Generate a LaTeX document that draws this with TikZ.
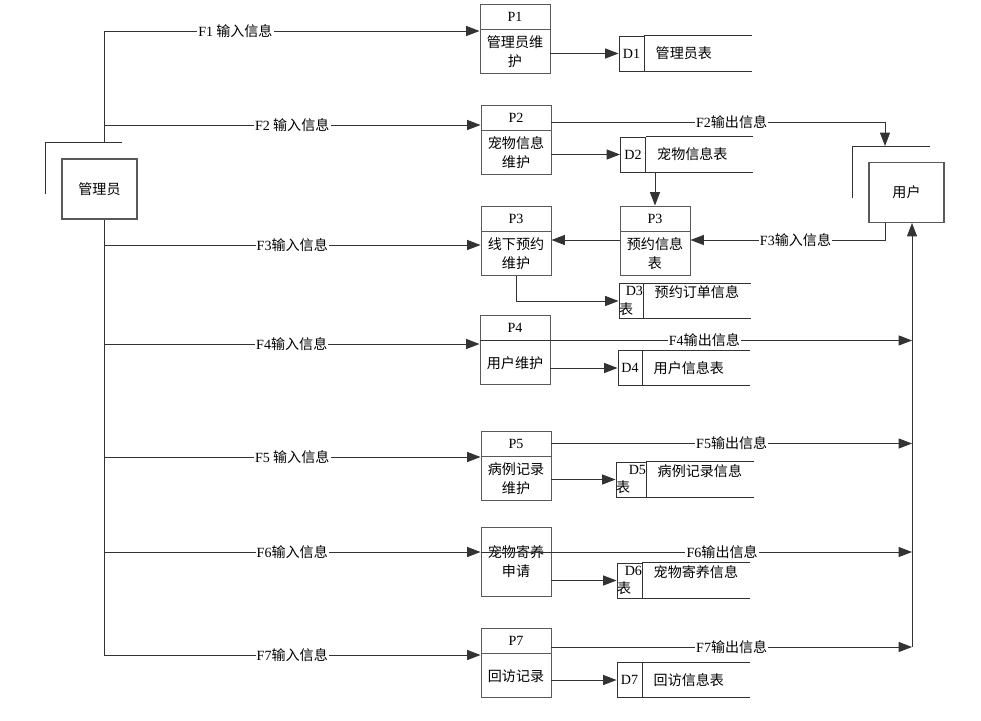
\documentclass[tikz,border=0pt]{standalone}
\usepackage{fontspec}
\setmainfont{Noto Sans CJK SC}
\newfontfamily\lat{Liberation Serif}
\usepackage{tikz}
\usetikzlibrary{arrows.meta, positioning, calc}
\tikzstyle{ext} = [rectangle, draw=black!65, line width=0.9pt, fill=white, minimum width=2.25cm, minimum height=1.8cm]
\tikzstyle{phead} = [rectangle, draw=black!65, line width=0.8pt, minimum width=2.1cm, minimum height=0.75cm, inner sep=0pt]
\tikzstyle{pbody} = [rectangle, draw=black!65, line width=0.8pt, minimum width=2.1cm, minimum height=1.32cm, inner sep=0pt, align=center]
\tikzstyle{dsid} = [rectangle, draw=black!80, line width=0.8pt, minimum width=0.75cm, minimum height=1.05cm, inner sep=0pt, align=center]
\tikzstyle{dsname} = [rectangle, minimum height=1.05cm, text width=2.55cm, inner xsep=0.33cm, inner ysep=0pt, align=left]

\begin{document}
\begin{tikzpicture}[
    x=0.03cm, y=-0.03cm,
    every node/.style={font=\fontsize{12}{16}\selectfont},
    wire/.style={line width=0.8pt, draw=black!80},
    arr/.style={-{Triangle[length=0.4cm, width=0.3cm]}, line width=0.8pt, draw=black!80},
    lbl/.style={fill=white, inner sep=1pt}
  ]
    \useasboundingbox (0,0) rectangle (981,720);

    % external entities
    \node[ext] (mgr) at (99.5,189) {管理员};
    \node[ext] (usr) at (906.5,192.5) {用户};
    \draw[wire] (45,194) -- (45,142) -- (122,142);
    \draw[wire] (852,198) -- (852,146) -- (930,146);

    % processes
    \node[phead] (p1h) at (515,16.5) {\lat P1};
    \node[pbody, below=0 of p1h] (p1b) {管理员维\\护};
    \node[phead] (p2h) at (516,117.5) {\lat P2};
    \node[pbody, below=0 of p2h] (p2b) {宠物信息\\维护};
    \node[phead] (p3h) at (516,218.5) {\lat P3};
    \node[pbody, below=0 of p3h] (p3b) {线下预约\\维护};
    \node[phead] (p3rh) at (655,218.5) {\lat P3};
    \node[pbody, below=0 of p3rh] (p3rb) {预约信息\\表};
    \node[phead] (p4h) at (515,327.5) {\lat P4};
    \node[pbody, below=0 of p4h] (p4b) {用户维护};
    \node[phead] (p5h) at (516,443.5) {\lat P5};
    \node[pbody, below=0 of p5h] (p5b) {病例记录\\维护};
    \node[pbody, minimum height=2.07cm] (p6) at (516,561.5) {宠物寄养\\申请};
    \node[phead] (p7h) at (516,640.5) {\lat P7};
    \node[pbody, below=0 of p7h] (p7b) {回访记录};

    % data stores
    \node[dsid] (d1) at (631.5,53.5) {\lat D1};
    \node[dsname, right=0 of d1] (d1n) {管理员表};
    \node[dsid] (d2) at (633,154.5) {\lat D2};
    \node[dsname, right=0 of d2] (d2n) {宠物信息表};
    \node[dsid, minimum width=0.72cm] (d3) at (631,301) {\makebox[0.72cm][r]{\lat D3}\\\makebox[0.72cm][l]{表}};
    \node[dsname, right=0 of d3] (d3n) {预约订单信息\\~};
    \node[dsid, minimum width=0.72cm] (d4) at (630,368) {\lat D4};
    \node[dsname, right=0 of d4] (d4n) {用户信息表};
    \node[dsid, minimum width=0.9cm] (d5) at (631,479.5) {\makebox[0.9cm][r]{\lat D5}\\\makebox[0.9cm][l]{表}};
    \node[dsname, right=0 of d5] (d5n) {病例记录信息\\~};
    \node[dsid] (d6) at (629.5,580.5) {\makebox[0.75cm][r]{\lat D6}\\\makebox[0.75cm][l]{表}};
    \node[dsname, right=0 of d6] (d6n) {宠物寄养信息\\~};
    \node[dsid] (d7) at (629.5,680) {\lat D7};
    \node[dsname, right=0 of d7] (d7n) {回访信息表};
    \foreach \d in {d1n,d2n,d3n,d4n,d5n,d6n,d7n}
      \draw[wire] (\d.north west) -- (\d.north east) (\d.south west) -- (\d.south east);

    % manager trunk and inputs
    \coordinate (mb) at (104,142);
    \coordinate (b1) at (104,31);
    \coordinate (b2) at (104,125);
    \coordinate (b3) at (104,245);
    \coordinate (b4) at (104,344);
    \coordinate (b5) at (104,457);
    \coordinate (b6) at (104,552);
    \coordinate (b7) at (104,655);
    \draw[wire] (mb) -- (b1);
    \draw[wire] (mgr.south -| b7) -- (b7);
    \draw[arr] (b1) -- node[lbl, pos=0.35] {{\lat F1} 输入信息} (b1 -| p1h.west);
    \draw[arr] (b2) -- node[lbl] {{\lat F2} 输入信息} (b2 -| p2h.west);
    \draw[arr] (b3) -- node[lbl] {{\lat F3}输入信息} (b3 -| p3b.west);
    \draw[arr] (b4) -- node[lbl] {{\lat F4}输入信息} (b4 -| p4h.west);
    \draw[arr] (b5) -- node[lbl] {{\lat F5} 输入信息} (b5 -| p5h.west);
    \draw[arr] (b6) -- node[lbl] {{\lat F6}输入信息} (b6 -| p6.west);
    \draw[arr] (b7) -- node[lbl] {{\lat F7}输入信息} (b7 -| p7h.west);

    % process to store
    \draw[arr] (p1b.east |- d1) -- (d1);
    \draw[arr] (p2b.east |- d2) -- (d2);
    \draw[arr] (p3rh.north |- d2n.south) -- (p3rh.north);
    \draw[arr] (p3b.south) |- (d3);
    \draw[arr] (p4b.east |- d4) -- (d4);
    \draw[arr] (p5b.east |- d5) -- (d5);
    \draw[arr] (p6.east |- d6) -- (d6);
    \draw[arr] (p7b.east |- d7) -- (d7);

    % user flows
    \coordinate (ubr) at (852,146);
    \coordinate (u2) at (885,122);
    \coordinate (u3) at (885,240);
    \coordinate (uin) at (912,647);
    \draw[arr] (u2 -| p2h.east) -- node[lbl, pos=0.54] {{\lat F2}输出信息} (u2) -- (u2 |- ubr);
    \draw[arr] (usr.south -| u3) -- (u3) -- node[lbl, pos=0.46] {{\lat F3}输入信息} (u3 -| p3rb.east);
    \draw[arr] (u3 -| p3rb.west) -- (u3 -| p3b.east);
    \draw[arr] (p4h.south west) -- node[lbl, pos=0.52] {{\lat F4}输出信息} (p4h.south west -| uin);
    \draw[arr] (p5h.east) -- node[lbl] {{\lat F5}输出信息} (p5h.east -| uin);
    \draw[arr] (b6 -| p6.west) -- node[lbl, pos=0.56] {{\lat F6}输出信息} (b6 -| uin);
    \draw[arr] (p7h.east |- uin) -- node[lbl] {{\lat F7}输出信息} (uin);
    \draw[arr] (uin) -- (usr.south -| uin);
  \end{tikzpicture}
\end{document}
